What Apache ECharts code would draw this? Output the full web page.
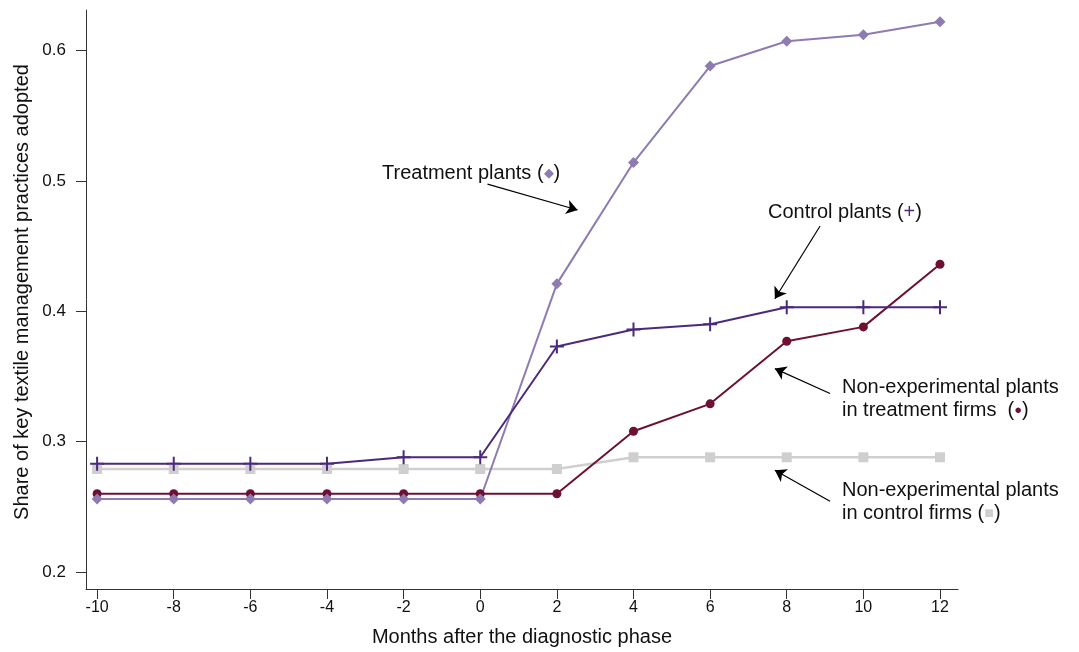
<!DOCTYPE html>
<html>
<head>
<meta charset="utf-8">
<script src="https://cdn.jsdelivr.net/npm/echarts@6/dist/echarts.min.js"></script>
<style>html,body{margin:0;padding:0;background:#fff}#c{width:1079px;height:652px}</style>
</head>
<body>
<div id="c"></div>
<script>
const months = [-10, -8, -6, -4, -2, 0, 2, 4, 6, 8, 10, 12];
const yTicks = [0.2, 0.3, 0.4, 0.5, 0.6];
const treatmentPlants = [0.256, 0.256, 0.256, 0.256, 0.256, 0.256, 0.421, 0.514, 0.588, 0.607, 0.612, 0.622];
const controlPlants = [0.283, 0.283, 0.283, 0.283, 0.288, 0.288, 0.373, 0.386, 0.390, 0.403, 0.403, 0.403];
const nonExpTreatmentFirms = [0.260, 0.260, 0.260, 0.260, 0.260, 0.260, 0.260, 0.308, 0.329, 0.377, 0.388, 0.436];
const nonExpControlFirms = [0.279, 0.279, 0.279, 0.279, 0.279, 0.279, 0.279, 0.288, 0.288, 0.288, 0.288, 0.288];

const C_TREAT = '#8D7BB2', C_CTRL = '#4B2A7B', C_NET = '#6D1034', C_NEC = '#CFCFCF';
const pair = arr => months.map((m, i) => [m, arr[i]]);
const font = '"Liberation Sans", Arial, Helvetica, sans-serif';
const plus = 'path://M-1,-7h2v14h-2zM-7,-1h14v2h-14z';

const arrowLine = (from, to) => [{coord: from}, {coord: to}];

const chart = echarts.init(document.getElementById('c'));
chart.setOption({
  animation: false,
  grid: {left: 86, right: 121, top: 10, bottom: 58, containLabel: false},
  xAxis: {
    type: 'value', min: -10.29, max: 12.47,
    name: 'Months after the diagnostic phase', nameLocation: 'middle', nameGap: 38,
    nameTextStyle: {fontFamily: font, fontSize: 20, color: '#111'},
    axisLine: {show: true, onZero: false, lineStyle: {color: '#333', width: 1}},
    axisTick: {show: true, length: 10, inside: false, customValues: months, lineStyle: {color: '#333'}},
    axisLabel: {customValues: months, margin: 11, fontFamily: font, fontSize: 16, color: '#111'},
    splitLine: {show: false}
  },
  yAxis: {
    type: 'value', min: 0.187, max: 0.631,
    axisLine: {show: true, onZero: false, lineStyle: {color: '#333', width: 1}},
    axisTick: {show: true, length: 10, inside: false, customValues: yTicks, lineStyle: {color: '#333'}},
    axisLabel: {customValues: yTicks, margin: 20, fontFamily: font, fontSize: 17, color: '#111',
      formatter: v => v.toFixed(1)},
    splitLine: {show: false}
  },
  series: [
    {name: 'Non-experimental plants in control firms', type: 'line', data: pair(nonExpControlFirms),
      symbol: 'rect', symbolSize: 10, lineStyle: {color: C_NEC, width: 2.5}, itemStyle: {color: C_NEC}},
    {name: 'Non-experimental plants in treatment firms', type: 'line', data: pair(nonExpTreatmentFirms),
      symbol: 'circle', symbolSize: 9, lineStyle: {color: C_NET, width: 2}, itemStyle: {color: C_NET}},
    {name: 'Treatment plants', type: 'line', data: pair(treatmentPlants),
      symbol: 'diamond', symbolSize: 11, lineStyle: {color: C_TREAT, width: 2}, itemStyle: {color: C_TREAT},
      markLine: {
        silent: true, symbol: ['none', 'arrow'], symbolSize: 11, label: {show: false},
        itemStyle: {color: '#000'},
        lineStyle: {color: '#000', width: 1.2, type: 'solid'},
        emphasis: {disabled: true},
        data: [
          arrowLine([0.19, 0.4975], [2.54, 0.4776]),
          arrowLine([8.87, 0.4654], [7.69, 0.4096]),
          arrowLine([9.13, 0.3369], [7.69, 0.356]),
          arrowLine([9.13, 0.2543], [7.69, 0.278])
        ]
      }},
    {name: 'Control plants', type: 'line', data: pair(controlPlants),
      symbol: plus, symbolSize: 14, lineStyle: {color: C_CTRL, width: 2}, itemStyle: {color: C_CTRL}}
  ],
  graphic: [
    {type: 'text', x: 22, y: 292, rotation: Math.PI / 2, style: {text: 'Share of key textile management practices adopted',
      font: '20px ' + font, fill: '#111', align: 'center', verticalAlign: 'middle'}},
    {type: 'text', x: 382, y: 173, style: {text: 'Treatment plants ({d|◆})', font: '20px ' + font, fill: '#111', verticalAlign: 'middle',
      rich: {d: {fill: C_TREAT, fontSize: 13, fontFamily: font}}}},
    {type: 'text', x: 768, y: 212, style: {text: 'Control plants ({p|+})', font: '20px ' + font, fill: '#111', verticalAlign: 'middle',
      rich: {p: {fill: C_CTRL, fontSize: 20, fontFamily: font}}}},
    {type: 'text', x: 842, y: 399, style: {text: 'Non-experimental plants\nin treatment firms  ({c|●})', font: '20px ' + font, fill: '#111', verticalAlign: 'middle', lineHeight: 23,
      rich: {c: {fill: C_NET, fontSize: 13, fontFamily: font, lineHeight: 23}}}},
    {type: 'text', x: 842, y: 502, style: {text: 'Non-experimental plants\nin control firms ({s|■})', font: '20px ' + font, fill: '#111', verticalAlign: 'middle', lineHeight: 23,
      rich: {s: {fill: C_NEC, fontSize: 16, fontFamily: font, lineHeight: 23}}}}
  ]
});
</script>
</body>
</html>
